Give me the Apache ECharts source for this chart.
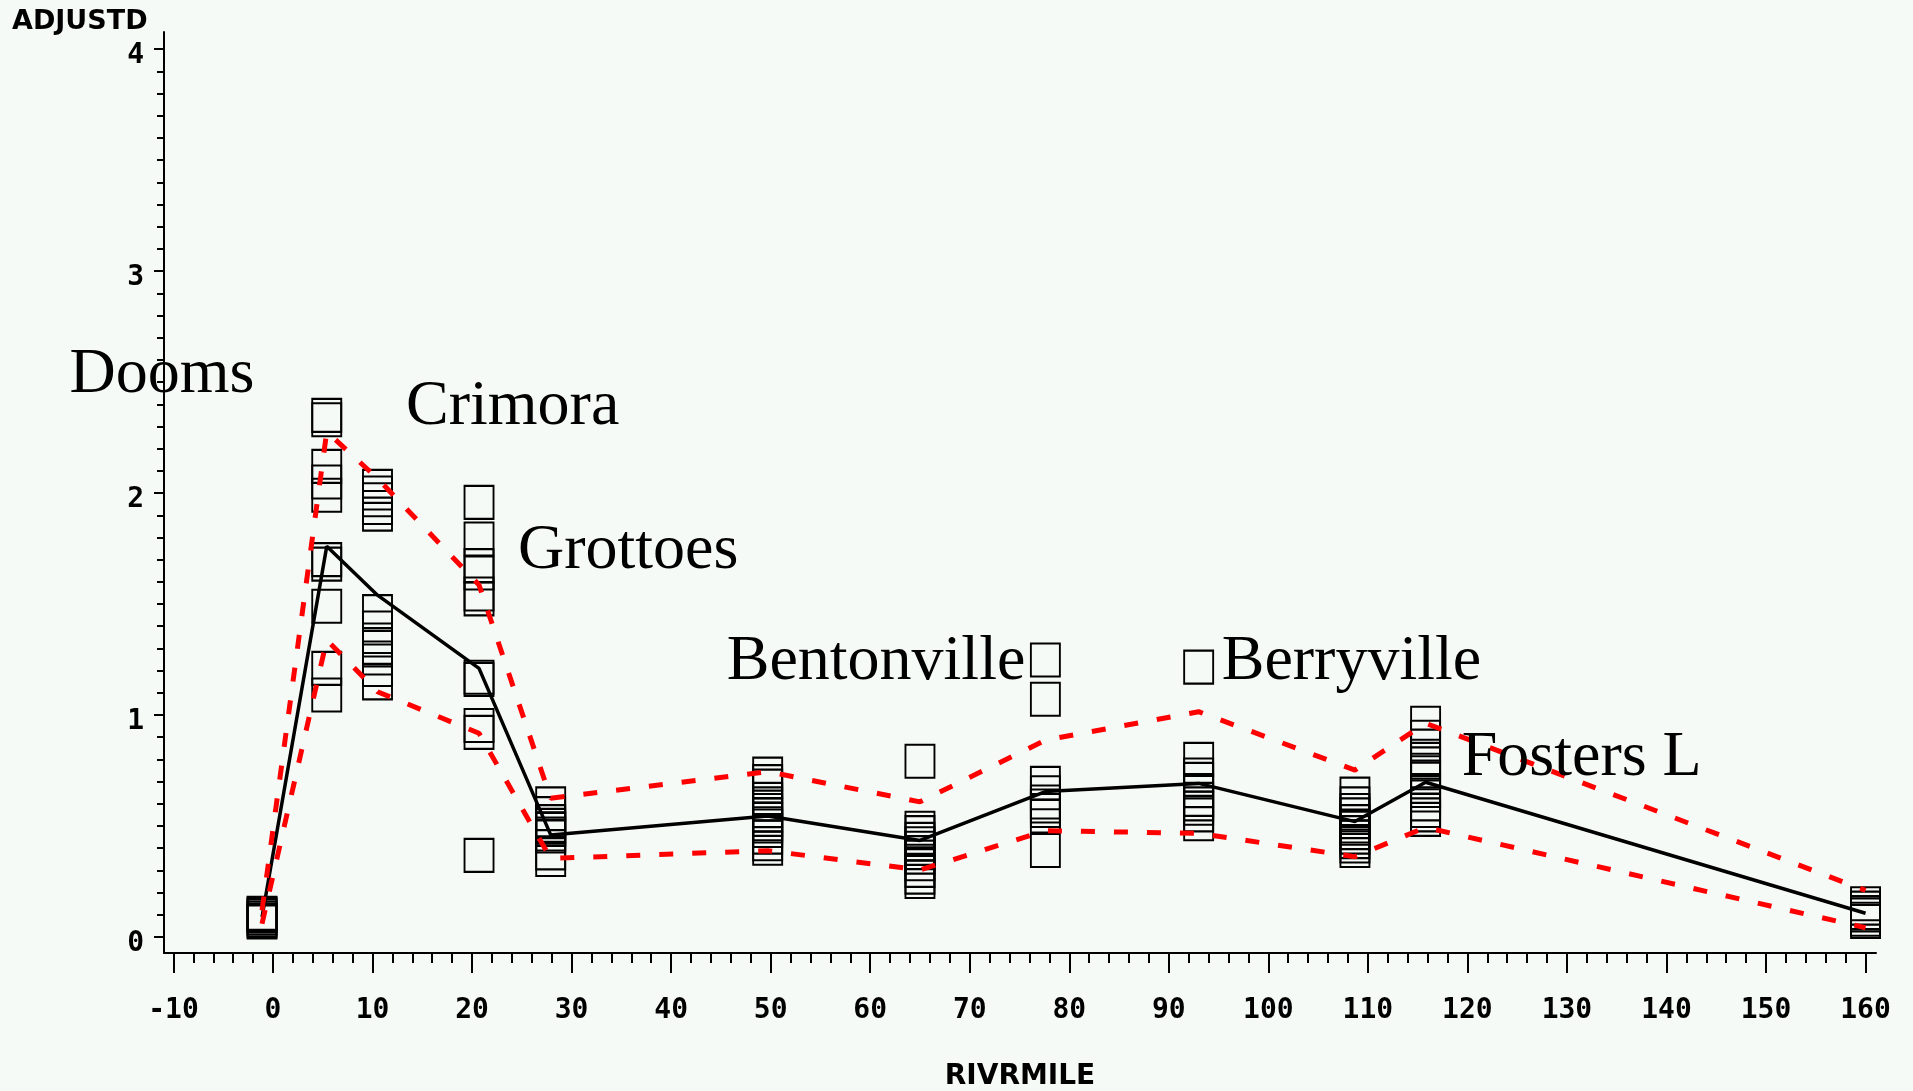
<!DOCTYPE html>
<html>
<head>
<meta charset="utf-8">
<script src="https://cdn.jsdelivr.net/npm/echarts@6/dist/echarts.min.js"></script>
<style>
html,body{margin:0;padding:0;background:#f6faf7;}
#chart{width:1913px;height:1091px;}
</style>
</head>
<body>
<div id="chart"></div>
<script>
// river mile of each sampling site
const siteMiles = [-1.1, 5.4, 10.5, 20.7, 27.9, 49.7, 65.0, 77.6, 93.0, 108.7, 115.8, 160.0];

// ADJUSTD observations per site (same order as siteMiles)
const sitePoints = [
  [0.068, 0.075, 0.085, 0.095, 0.102, 0.107],
  [2.35, 2.33, 2.12, 2.05, 1.99, 1.70, 1.68, 1.49, 1.21, 1.09],
  [2.03, 2.00, 1.97, 1.935, 1.905, 1.466, 1.392, 1.338, 1.305, 1.257, 1.205, 1.145],
  [1.958, 1.793, 1.673, 1.64, 1.545, 1.523, 1.17, 1.16, 0.953, 0.922, 0.368],
  [0.60, 0.556, 0.52, 0.503, 0.487, 0.485, 0.464, 0.455, 0.379, 0.349],
  [0.734, 0.70, 0.68, 0.62, 0.60, 0.57, 0.55, 0.53, 0.51, 0.50, 0.48, 0.45, 0.42, 0.40],
  [0.792, 0.49, 0.47, 0.44, 0.42, 0.40, 0.38, 0.36, 0.33, 0.30, 0.27, 0.25],
  [1.248, 1.071, 0.692, 0.65, 0.608, 0.59, 0.57, 0.545, 0.39],
  [1.216, 0.80, 0.73, 0.71, 0.66, 0.62, 0.60, 0.58, 0.55, 0.51],
  [0.644, 0.60, 0.57, 0.55, 0.52, 0.50, 0.49, 0.47, 0.45, 0.43, 0.41, 0.39],
  [0.963, 0.90, 0.86, 0.80, 0.78, 0.74, 0.72, 0.66, 0.64, 0.60, 0.57, 0.55, 0.53],
  [0.15, 0.13, 0.11, 0.10, 0.08, 0.07]
];

const meanLine  = [0.09, 1.76, 1.54, 1.21, 0.46, 0.545, 0.435, 0.655, 0.692, 0.52, 0.697, 0.107];
const upperLine = [0.12, 2.276, 2.066, 1.586, 0.625, 0.745, 0.609, 0.887, 1.015, 0.752, 0.963, 0.21];
const lowerLine = [0.06, 1.338, 1.105, 0.918, 0.354, 0.389, 0.302, 0.479, 0.467, 0.362, 0.494, 0.042];

const xTickLabels = [-10, 0, 10, 20, 30, 40, 50, 60, 70, 80, 90, 100, 110, 120, 130, 140, 150, 160];
const yTickLabels = [0, 1, 2, 3, 4];
const placeNames = ["Dooms", "Crimora", "Grottoes", "Bentonville", "Berryville", "Fosters L"];

// minor ticks
const xMinor = [], yMinor = [];
for (let v = -10; v <= 160; v += 2) xMinor.push(v);
for (let i = 0; i <= 40; i++) yMinor.push(Math.round(i * 10) / 100);

const pixFont = '"DejaVu Sans Mono", monospace';
const serif = '"Liberation Serif", "Times New Roman", serif';

const xBase = {
  type: "value", min: -10.95, max: 161.05, gridIndex: 0, position: "bottom",
  splitLine: {show: false}
};
const yBase = {
  type: "value", min: -0.072, max: 4.077, gridIndex: 0, position: "left",
  splitLine: {show: false}
};

const scatterData = sitePoints.flatMap((vals, i) => vals.map(v => [siteMiles[i], v]));
const lineData = arr => siteMiles.map((m, i) => [m, arr[i]]);

// annotation placement (left edge, baseline) in pixels
const labelPos = [[69.5, 396], [406, 428], [518, 572], [726.7, 683], [1221.7, 683], [1461.7, 779]];

const chart = echarts.init(document.getElementById("chart"));
chart.setOption({
  backgroundColor: "#f6faf7",
  animation: false,
  grid: {left: 164, top: 32, width: 1712, height: 921, containLabel: false},
  xAxis: [
    Object.assign({}, xBase, {
      axisLine: {onZero: false, lineStyle: {color: "#000", width: 2}},
      axisTick: {customValues: xTickLabels, length: 20, lineStyle: {color: "#000", width: 2}},
      axisLabel: {customValues: xTickLabels, margin: 44, color: "#000",
        fontFamily: pixFont, fontWeight: "bold", fontSize: 28}
    }),
    Object.assign({}, xBase, {
      axisLine: {show: false, onZero: false},
      axisTick: {customValues: xMinor, length: 10, lineStyle: {color: "#000", width: 2}},
      axisLabel: {show: false}
    })
  ],
  yAxis: [
    Object.assign({}, yBase, {
      axisLine: {onZero: false, lineStyle: {color: "#000", width: 2}},
      axisTick: {customValues: yTickLabels, length: 10, lineStyle: {color: "#000", width: 2}},
      axisLabel: {customValues: yTickLabels, margin: 20, color: "#000",
        fontFamily: pixFont, fontWeight: "bold", fontSize: 28,
        verticalAlign: "top", lineHeight: 14}
    }),
    Object.assign({}, yBase, {
      axisLine: {show: false, onZero: false},
      axisTick: {customValues: yMinor, length: 7, lineStyle: {color: "#000", width: 2}},
      axisLabel: {show: false}
    })
  ],
  graphic: [
    {type: "text", x: 12, y: 22, style: {text: "ADJUSTD", fill: "#000",
      font: 'bold 27px "DejaVu Sans", sans-serif', textAlign: "left", verticalAlign: "middle", textVerticalAlign: "middle"}},
    {type: "text", x: 1020, y: 1077, style: {text: "RIVRMILE", fill: "#000",
      font: 'bold 28px "DejaVu Sans", sans-serif', textAlign: "center", verticalAlign: "middle", textVerticalAlign: "middle"}}
  ].concat(placeNames.map((n, i) => ({
    type: "text", x: labelPos[i][0], y: labelPos[i][1] - 21, z: 100,
    style: {text: n, fill: "#000", font: "64px " + serif, textAlign: "left",
      verticalAlign: "middle", textVerticalAlign: "middle"}
  }))),
  series: [
    {
      type: "scatter", data: scatterData, symbol: "rect", symbolSize: [29, 33],
      itemStyle: {color: "rgba(0,0,0,0)", borderColor: "#000", borderWidth: 2, opacity: 1},
      emphasis: {disabled: true}, clip: false
    },
    {
      type: "line", data: lineData(meanLine), symbol: "none",
      lineStyle: {color: "#000", width: 3.5}, emphasis: {disabled: true}
    },
    {
      type: "line", data: lineData(upperLine), symbol: "none",
      lineStyle: {color: "#ff0000", width: 5, type: [14, 19]}, emphasis: {disabled: true}
    },
    {
      type: "line", data: lineData(lowerLine), symbol: "none",
      lineStyle: {color: "#ff0000", width: 5, type: [14, 19]}, emphasis: {disabled: true}
    }
  ]
});
</script>
</body>
</html>
